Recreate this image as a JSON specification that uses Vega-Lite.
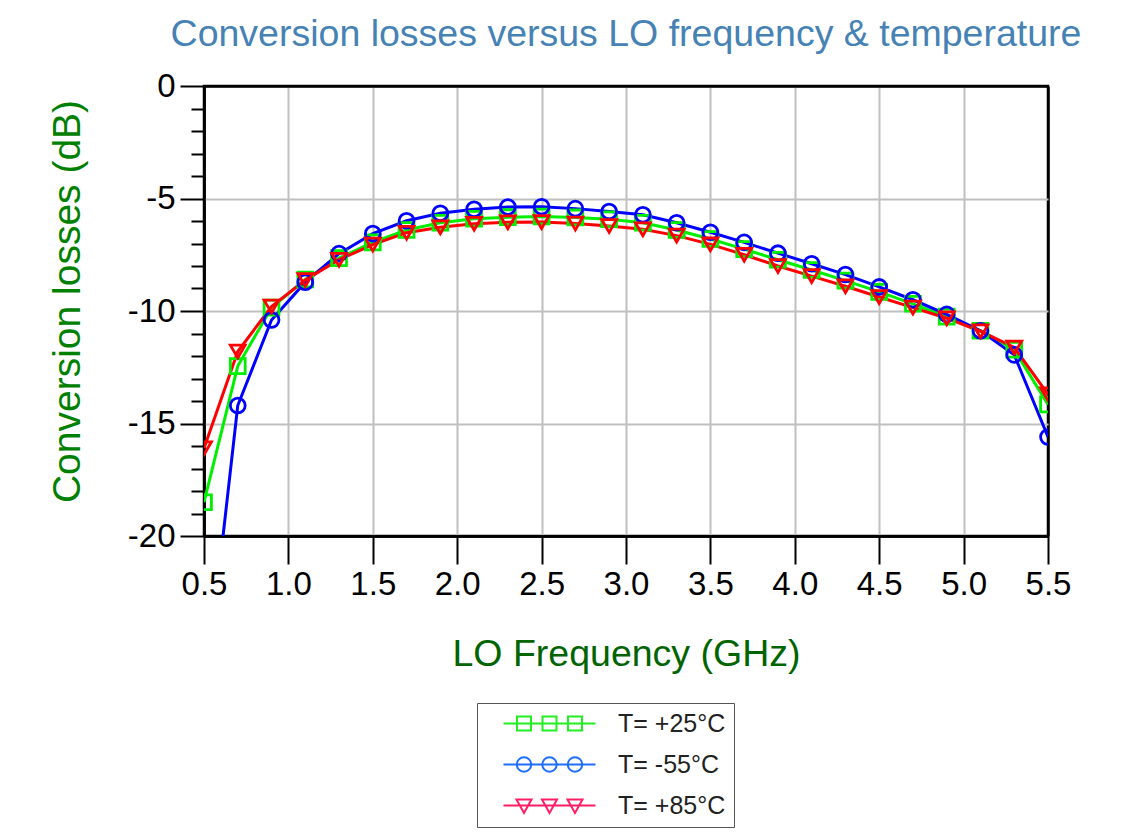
{
  "$schema": "https://vega.github.io/schema/vega-lite/v6.json",
  "width": 844,
  "height": 450,
  "autosize": {"type": "none"},
  "padding": {"left": 204, "top": 86, "right": 83, "bottom": 301},
  "background": "white",
  "title": {
    "text": "Conversion losses versus LO frequency & temperature",
    "font": "Liberation Sans",
    "fontSize": 37.5,
    "fontWeight": "normal",
    "color": "#4682b4",
    "anchor": "middle",
    "offset": 17
  },
  "data": {
    "values": [
      {"f": 0.5, "t": "T= +25°C", "v": -18.5}, {"f": 0.5, "t": "T= -55°C", "v": -27.5}, {"f": 0.5, "t": "T= +85°C", "v": -16.1},
      {"f": 0.7, "t": "T= +25°C", "v": -12.45}, {"f": 0.7, "t": "T= -55°C", "v": -14.2}, {"f": 0.7, "t": "T= +85°C", "v": -11.8},
      {"f": 0.9, "t": "T= +25°C", "v": -9.85}, {"f": 0.9, "t": "T= -55°C", "v": -10.4}, {"f": 0.9, "t": "T= +85°C", "v": -9.8},
      {"f": 1.1, "t": "T= +25°C", "v": -8.6}, {"f": 1.1, "t": "T= -55°C", "v": -8.72}, {"f": 1.1, "t": "T= +85°C", "v": -8.62},
      {"f": 1.3, "t": "T= +25°C", "v": -7.65}, {"f": 1.3, "t": "T= -55°C", "v": -7.45}, {"f": 1.3, "t": "T= +85°C", "v": -7.72},
      {"f": 1.5, "t": "T= +25°C", "v": -6.95}, {"f": 1.5, "t": "T= -55°C", "v": -6.56}, {"f": 1.5, "t": "T= +85°C", "v": -7.05},
      {"f": 1.7, "t": "T= +25°C", "v": -6.4}, {"f": 1.7, "t": "T= -55°C", "v": -5.99}, {"f": 1.7, "t": "T= +85°C", "v": -6.52},
      {"f": 1.9, "t": "T= +25°C", "v": -6.08}, {"f": 1.9, "t": "T= -55°C", "v": -5.66}, {"f": 1.9, "t": "T= +85°C", "v": -6.28},
      {"f": 2.1, "t": "T= +25°C", "v": -5.9}, {"f": 2.1, "t": "T= -55°C", "v": -5.48}, {"f": 2.1, "t": "T= +85°C", "v": -6.12},
      {"f": 2.3, "t": "T= +25°C", "v": -5.83}, {"f": 2.3, "t": "T= -55°C", "v": -5.38}, {"f": 2.3, "t": "T= +85°C", "v": -6.06},
      {"f": 2.5, "t": "T= +25°C", "v": -5.8}, {"f": 2.5, "t": "T= -55°C", "v": -5.37}, {"f": 2.5, "t": "T= +85°C", "v": -6.05},
      {"f": 2.7, "t": "T= +25°C", "v": -5.84}, {"f": 2.7, "t": "T= -55°C", "v": -5.45}, {"f": 2.7, "t": "T= +85°C", "v": -6.11},
      {"f": 2.9, "t": "T= +25°C", "v": -5.92}, {"f": 2.9, "t": "T= -55°C", "v": -5.58}, {"f": 2.9, "t": "T= +85°C", "v": -6.22},
      {"f": 3.1, "t": "T= +25°C", "v": -6.08}, {"f": 3.1, "t": "T= -55°C", "v": -5.72}, {"f": 3.1, "t": "T= +85°C", "v": -6.37},
      {"f": 3.3, "t": "T= +25°C", "v": -6.4}, {"f": 3.3, "t": "T= -55°C", "v": -6.08}, {"f": 3.3, "t": "T= +85°C", "v": -6.65},
      {"f": 3.5, "t": "T= +25°C", "v": -6.8}, {"f": 3.5, "t": "T= -55°C", "v": -6.5}, {"f": 3.5, "t": "T= +85°C", "v": -7.04},
      {"f": 3.7, "t": "T= +25°C", "v": -7.25}, {"f": 3.7, "t": "T= -55°C", "v": -6.95}, {"f": 3.7, "t": "T= +85°C", "v": -7.5},
      {"f": 3.9, "t": "T= +25°C", "v": -7.72}, {"f": 3.9, "t": "T= -55°C", "v": -7.43}, {"f": 3.9, "t": "T= +85°C", "v": -8.0},
      {"f": 4.1, "t": "T= +25°C", "v": -8.18}, {"f": 4.1, "t": "T= -55°C", "v": -7.9}, {"f": 4.1, "t": "T= +85°C", "v": -8.45},
      {"f": 4.3, "t": "T= +25°C", "v": -8.65}, {"f": 4.3, "t": "T= -55°C", "v": -8.38}, {"f": 4.3, "t": "T= +85°C", "v": -8.9},
      {"f": 4.5, "t": "T= +25°C", "v": -9.15}, {"f": 4.5, "t": "T= -55°C", "v": -8.93}, {"f": 4.5, "t": "T= +85°C", "v": -9.38},
      {"f": 4.7, "t": "T= +25°C", "v": -9.68}, {"f": 4.7, "t": "T= -55°C", "v": -9.5}, {"f": 4.7, "t": "T= +85°C", "v": -9.85},
      {"f": 4.9, "t": "T= +25°C", "v": -10.25}, {"f": 4.9, "t": "T= -55°C", "v": -10.15}, {"f": 4.9, "t": "T= +85°C", "v": -10.32},
      {"f": 5.1, "t": "T= +25°C", "v": -10.88}, {"f": 5.1, "t": "T= -55°C", "v": -10.88}, {"f": 5.1, "t": "T= +85°C", "v": -10.9},
      {"f": 5.3, "t": "T= +25°C", "v": -11.72}, {"f": 5.3, "t": "T= -55°C", "v": -11.95}, {"f": 5.3, "t": "T= +85°C", "v": -11.62},
      {"f": 5.5, "t": "T= +25°C", "v": -14.15}, {"f": 5.5, "t": "T= -55°C", "v": -15.6}, {"f": 5.5, "t": "T= +85°C", "v": -13.7}
    ]
  },
  "layer": [
    {
      "mark": {"type": "line", "strokeWidth": 3, "clip": true},
      "encoding": {
        "x": {
          "field": "f", "type": "quantitative",
          "scale": {"domain": [0.5, 5.5], "nice": false, "zero": false},
          "axis": {
            "values": [0.5, 1, 1.5, 2, 2.5, 3, 3.5, 4, 4.5, 5, 5.5],
            "format": ".1f",
            "labelFlush": false,
            "title": "LO Frequency (GHz)",
            "titleColor": "#006400",
            "titleFontSize": 37.5,
            "titlePadding": 34,
            "labelFontSize": 33,
            "labelPadding": 4,
            "tickSize": 28,
            "grid": true,
            "gridColor": {"condition": {"test": "datum.value === 0.5 || datum.value === 5.5", "value": "#000000"}, "value": "#c0c0c0"},
            "gridWidth": {"condition": {"test": "datum.value === 0.5 || datum.value === 5.5", "value": 2.5}, "value": 2}
          }
        },
        "y": {
          "field": "v", "type": "quantitative",
          "scale": {"domain": [-20, 0], "nice": false, "zero": false},
          "axis": {
            "orient": "left",
            "values": [0, -5, -10, -15, -20],
            "labelExpr": "'' + datum.value",
            "labelFlush": false,
            "title": "Conversion losses (dB)",
            "titleColor": "#008000",
            "titleFontSize": 39,
            "titlePadding": 40,
            "titleY": 215,
            "labelFontSize": 33,
            "labelPadding": 5,
            "tickSize": 24,
            "grid": true,
            "gridColor": {"condition": {"test": "datum.value === 0 || datum.value === -20", "value": "#000000"}, "value": "#c0c0c0"},
            "gridWidth": {"condition": {"test": "datum.value === 0 || datum.value === -20", "value": 2.5}, "value": 2}
          }
        },
        "color": {
          "field": "t", "type": "nominal",
          "scale": {"domain": ["T= +25°C", "T= -55°C", "T= +85°C"], "range": ["#00ee00", "#0000ff", "#ff0000"]},
          "legend": null
        }
      }
    },
    {
      "mark": {"type": "point", "filled": false, "size": 220, "strokeWidth": 2.8, "opacity": 1, "clip": true},
      "encoding": {
        "x": {"field": "f", "type": "quantitative"},
        "y": {
          "field": "v", "type": "quantitative",
          "axis": {
            "orient": "left",
            "values": [-1, -2, -3, -4, -6, -7, -8, -9, -11, -12, -13, -14, -16, -17, -18, -19],
            "labels": false,
            "domain": false,
            "grid": false,
            "title": null,
            "tickSize": 13
          }
        },
        "color": {
          "field": "t", "type": "nominal",
          "scale": {"domain": ["T= +25°C", "T= -55°C", "T= +85°C"], "range": ["#00ee00", "#0000ff", "#ff0000"]},
          "legend": null
        },
        "shape": {
          "field": "t", "type": "nominal",
          "scale": {"domain": ["T= +25°C", "T= -55°C", "T= +85°C"], "range": ["square", "circle", "triangle-down"]},
          "legend": null
        }
      }
    },
    {
      "mark": {"type": "point", "filled": false, "size": 400, "strokeWidth": 2, "opacity": 0, "clip": true},
      "encoding": {
        "x": {"field": "f", "type": "quantitative"},
        "y": {"field": "v", "type": "quantitative", "axis": null},
        "color": {
          "field": "t", "type": "nominal",
          "scale": {"domain": ["T= +25°C", "T= -55°C", "T= +85°C"], "range": ["#22ee22", "#1e6eff", "#ff1e64"]},
          "legend": {"orient": "none", "legendX": 273, "legendY": 617, "title": null}
        },
        "shape": {
          "field": "t", "type": "nominal",
          "scale": {
            "domain": ["T= +25°C", "T= -55°C", "T= +85°C"],
            "range": [
              "M-4.6,0H4.6M-3.25,-0.7h1.4v1.4h-1.4zM-0.7,-0.7h1.4v1.4h-1.4zM1.85,-0.7h1.4v1.4h-1.4z",
              "M-4.6,0H4.6M-3.27,0a0.72,0.72 0 1,0 1.44,0a0.72,0.72 0 1,0 -1.44,0M-0.72,0a0.72,0.72 0 1,0 1.44,0a0.72,0.72 0 1,0 -1.44,0M1.83,0a0.72,0.72 0 1,0 1.44,0a0.72,0.72 0 1,0 -1.44,0",
              "M-4.6,0H4.6M-3.3,-0.6h1.5l-0.75,1.35zM-0.75,-0.6h1.5l-0.75,1.35zM1.8,-0.6h1.5l-0.75,1.35z"
            ]
          },
          "legend": {"orient": "none", "legendX": 273, "legendY": 617, "title": null}
        }
      }
    }
  ],
  "resolve": {"axis": {"y": "independent"}, "scale": {"color": "independent", "shape": "independent"}},
  "config": {
    "font": "Liberation Sans",
    "view": {"stroke": "#000000", "strokeWidth": 2.5},
    "axis": {
      "labelColor": "#000000",
      "labelFont": "Liberation Sans",
      "titleFont": "Liberation Sans",
      "titleFontWeight": "normal",
      "domainColor": "#000000",
      "domainWidth": 2.5,
      "tickColor": "#000000",
      "tickWidth": 2
    },
    "legend": {
      "symbolSize": 400,
      "symbolOffset": 52,
      "labelOffset": 56,
      "labelFontSize": 25,
      "labelColor": "#222222",
      "labelFont": "Liberation Sans",
      "labelLimit": 300,
      "rowPadding": 15,
      "padding": 8,
      "strokeColor": "#555555",
      "fillColor": "#ffffff",
      "cornerRadius": 0,
      "symbolStrokeWidth": 2,
      "symbolOpacity": 1
    }
  }
}
